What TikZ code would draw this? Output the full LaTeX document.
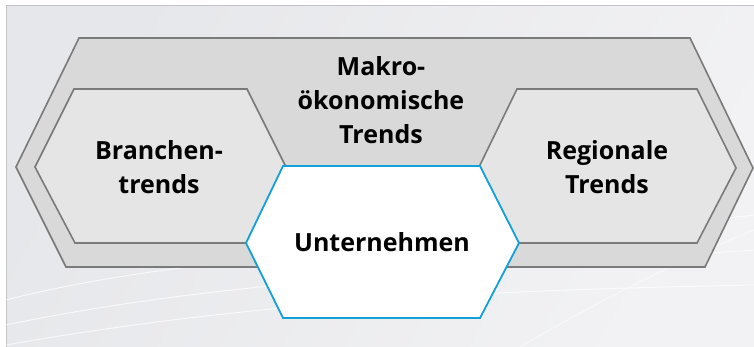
\documentclass[tikz,border=0pt]{standalone}
\usepackage{fontspec}
\setmainfont{Open Sans}
\usetikzlibrary{shadings}
\definecolor{panelA}{HTML}{F2F2F4}
\definecolor{panelB}{HTML}{E6E7EA}
\definecolor{frameline}{HTML}{C4C4C6}
\definecolor{outerfill}{HTML}{D9D9D9}
\definecolor{innerfill}{HTML}{E5E5E5}
\definecolor{hexline}{HTML}{7A7A7A}
\definecolor{coreblue}{HTML}{12A0DA}
\tikzset{
  outerhex/.style={fill=outerfill, draw=hexline, line width=1.6pt, line join=miter},
  innerhex/.style={fill=innerfill, draw=hexline, line width=1.6pt, line join=miter},
  corehex/.style={fill=white, draw=coreblue, line width=1.8pt, line join=miter},
  lbl/.style={font=\fontsize{25}{34}\selectfont\bfseries, align=center, text=black, inner sep=0pt},
  swoosh/.style={white, line width=1pt, opacity=0.7}
}
\begin{document}
\begin{tikzpicture}[x=1pt,y=-1pt]
\useasboundingbox (0,0) rectangle (754,347);
% backdrop panel
\fill[white] (0,0) rectangle (754,347);
\shade[left color=panelB, right color=panelA, shading angle=60] (6,6) rectangle (754,347);
\draw[frameline, line width=1pt] (6,347) -- (6,6) -- (754,6);
% faint background swooshes
\draw[swoosh] (6,300) .. controls (200,250) and (450,250) .. (754,215);
\draw[swoosh] (6,325) .. controls (220,280) and (470,270) .. (754,250);
\draw[swoosh] (6,345) .. controls (260,300) and (500,290) .. (754,285);
\draw[swoosh, opacity=0.5] (520,347) .. controls (600,300) and (680,260) .. (754,230);
% macro-economic frame
\path[outerhex] (79,38) -- (690,38) -- (753,168) -- (705,267) -- (66,267) -- (16,167) -- cycle;
% sector and regional shapes
\path[innerhex] (74,89) -- (247,89) -- (286,167) -- (247,243) -- (75,243) -- (35,167) -- cycle;
\path[innerhex] (517,89) -- (697,89) -- (736,168) -- (697,243) -- (518,243) -- (479,167) -- cycle;
% company at the centre
\path[corehex] (283,166) -- (480,166) -- (519,243) -- (480,318) -- (283,318) -- (246,243) -- cycle;
% labels
\node[lbl] (makro) at (381,100) {Makro-\\ökonomische\\Trends};
\node[lbl] (branche) at (159,167) {Branchen-\\trends};
\node[lbl] (region) at (607,167) {Regionale\\Trends};
\node[lbl] (firma) at (382,242) {Unternehmen};
\end{tikzpicture}
\end{document}
